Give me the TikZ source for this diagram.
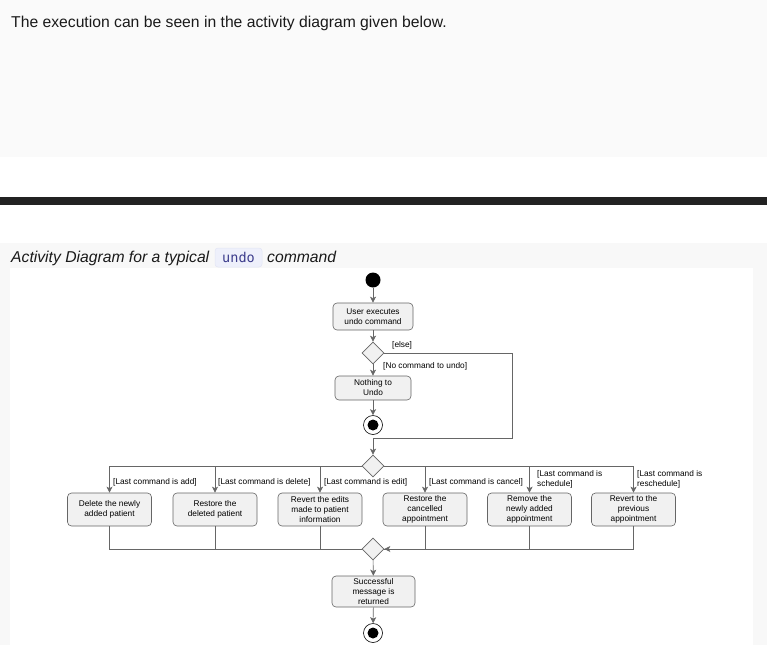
\documentclass[tikz,border=0pt]{standalone}
\usepackage{fontspec}
\setmainfont{Liberation Sans}
\setmonofont{DejaVu Sans Mono}
\usetikzlibrary{shapes.geometric,arrows.meta}
\definecolor{bandgray}{HTML}{FAFAFA}
\definecolor{bargray}{HTML}{222222}
\definecolor{panelgray}{HTML}{F8F8F8}
\definecolor{actfill}{HTML}{F1F1F1}
\definecolor{lingray}{HTML}{666666}
\definecolor{codebg}{HTML}{EEF0FB}
\definecolor{codeborder}{HTML}{E2E5F5}
\definecolor{codefg}{HTML}{3C3C8C}
\definecolor{txt}{HTML}{1A1A1A}
\tikzset{
  dfont/.style={font=\fontsize{8.3}{10}\selectfont},
  act/.style={draw=lingray, line width=0.6pt, fill=actfill, rounded corners=4pt,
    minimum height=27pt, inner sep=0pt, align=center, dfont, text=black},
  dia/.style={diamond, draw=lingray, line width=0.6pt, fill=actfill, minimum width=22pt,
    minimum height=22pt, inner sep=0pt},
  startnode/.style={circle, fill=black, minimum size=15pt, inner sep=0pt},
  endnode/.style={circle, draw=black, line width=0.6pt, fill=white, minimum size=19pt, inner sep=0pt,
    path picture={\fill[black] (path picture bounding box.center) circle (5.5pt);}},
  ln/.style={draw=lingray, line width=0.6pt},
  arr/.style={ln, -{Stealth[length=6pt, width=6pt, inset=1.5pt]}},
  lbl/.style={dfont, inner sep=0pt, align=left, text=black},
  bigtext/.style={inner sep=0pt, text=txt, font=\fontsize{15.7}{18}\selectfont},
}
\begin{document}
\begin{tikzpicture}[x=1pt, y=-1pt]
\useasboundingbox (0,0) rectangle (767,645);
% backgrounds
\fill[white] (0,0) rectangle (767,645);
\fill[bandgray] (0,0) rectangle (767,157);
\fill[bargray] (0,197) rectangle (767,205);
\fill[panelgray] (0,243) rectangle (767,645);
\fill[white] (10,268) rectangle (753,645);
% texts
\node[bigtext, anchor=base west] (intro) at (11,27)
  {The execution can be seen in the activity diagram given below.};
\node[bigtext, anchor=base west, font=\fontsize{15.7}{18}\selectfont\itshape] (cap1) at (11,262)
  {Activity Diagram for a typical};
\filldraw[fill=codebg, draw=codeborder, line width=0.5pt, rounded corners=3pt] (215,248) rectangle (262,267);
\node[anchor=base, inner sep=0pt, text=codefg, font=\fontsize{13.5}{15}\ttfamily] (undo) at (238.5,262) {undo};
\node[bigtext, anchor=base west, font=\fontsize{15.7}{18}\selectfont\itshape] (cap2) at (267,262)
  {command};
% diagram nodes
\node[startnode] (s) at (373,280) {};
\node[act, minimum width=80pt] (a1) at (373,316.5) {User executes\\undo command};
\node[dia] (d1) at (373,353) {};
\node[act, minimum width=76pt, minimum height=24pt] (n1) at (373,388) {Nothing to\\Undo};
\node[endnode] (e1) at (373,425) {};
\coordinate (c1) at (512,438);
\node[dia] (d2) at (373,466) {};
\node[act, minimum width=84pt, minimum height=33pt] (b1) at (109.5,509.5) {Delete the newly\\added patient};
\node[act, minimum width=84pt, minimum height=33pt] (b2) at (215,509.5) {Restore the\\deleted patient};
\node[act, minimum width=84pt, minimum height=33pt] (b3) at (320,509.5) {Revert the edits\\made to patient\\information};
\node[act, minimum width=84pt, minimum height=33pt] (b4) at (425,509.5) {Restore the\\cancelled\\appointment};
\node[act, minimum width=84pt, minimum height=33pt] (b5) at (529.5,509.5) {Remove the\\newly added\\appointment};
\node[act, minimum width=84pt, minimum height=33pt] (b6) at (633.5,509.5) {Revert to the\\previous\\appointment};
\node[dia] (m) at (373,549) {};
\node[act, minimum width=83pt, minimum height=31pt] (r) at (373.5,591.5) {Successful\\message is\\returned};
\node[endnode] (e2) at (373,633) {};
% connectors
\draw[arr] (s) -- (a1);
\draw[arr] (a1) -- (d1);
\draw[arr] (d1) -- (n1);
\draw[arr] (n1) -- (e1);
\draw[arr] (d1.east) -| (c1) -| (d2.north);
\node[lbl, anchor=west] (lelse) at (392,345) {[else]};
\node[lbl, anchor=west] (lno) at (383,366) {[No command to undo]};
\draw[arr] (d2.west) -| (b1.north);
\draw[arr] (d2.west) -| (b2.north);
\draw[arr] (d2.west) -| (b3.north);
\draw[arr] (d2.east) -| (b4.north);
\draw[arr] (d2.east) -| (b5.north);
\draw[arr] (d2.east) -| (b6.north);
\node[lbl, anchor=west] (l1) at (113,482) {[Last command is add]};
\node[lbl, anchor=west] (l2) at (218,482) {[Last command is delete]};
\node[lbl, anchor=west] (l3) at (324,482) {[Last command is edit]};
\node[lbl, anchor=west] (l4) at (429,482) {[Last command is cancel]};
\node[lbl, anchor=west] (l5) at (537,479.5) {[Last command is\\schedule]};
\node[lbl, anchor=west] (l6) at (637,479.5) {[Last command is\\reschedule]};
\draw[ln] (b1.south) |- (m.west);
\draw[ln] (b2.south) |- (m.west);
\draw[ln] (b3.south) |- (m.west);
\draw[ln] (b4.south) |- (m.east);
\draw[ln] (b5.south) |- (m.east);
\draw[arr] (b6.south) |- (m.east);
\draw[arr] (m) -- (r);
\draw[arr] (r) -- (e2);
\end{tikzpicture}
\end{document}
